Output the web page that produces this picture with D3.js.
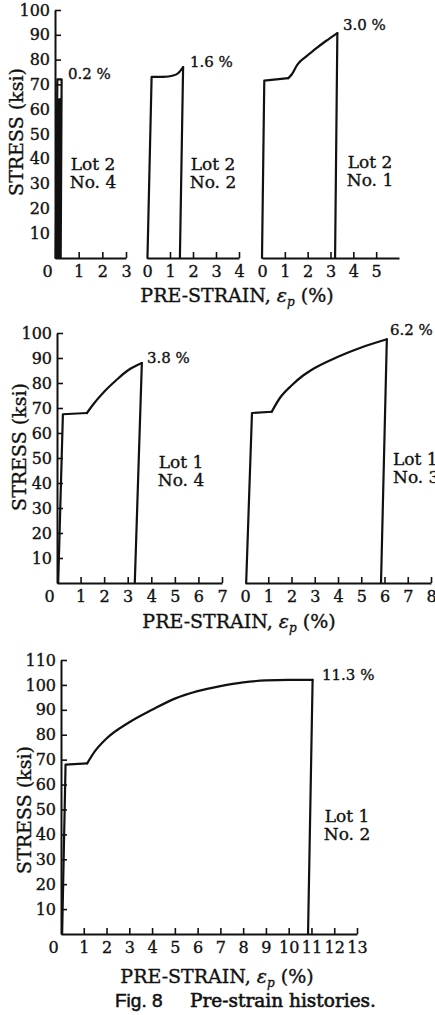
<!DOCTYPE html>
<html>
<head>
<meta charset="utf-8">
<script src="https://cdn.jsdelivr.net/npm/d3@7"></script>
<style>
    html, body { margin: 0; padding: 0; background: #fff; }
    #chart { width: 435px; height: 1015px; }
</style>
</head>
<body>
<div id="chart"></div>
<script>
// ticks
const stressTicks = [10, 20, 30, 40, 50, 60, 70, 80, 90, 100];
const stressTicksBig = [10, 20, 30, 40, 50, 60, 70, 80, 90, 100, 110];
const strainTicks3 = [0, 1, 2, 3];
const strainTicks4 = [0, 1, 2, 3, 4];
const strainTicks5 = [0, 1, 2, 3, 4, 5];
const strainTicks7 = [0, 1, 2, 3, 4, 5, 6, 7];
const strainTicks8 = [0, 1, 2, 3, 4, 5, 6, 7, 8];
const strainTicks13 = [0, 1, 2, 3, 4, 5, 6, 7, 8, 9, 10, 11, 12, 13];

// pre-strain histories [strain %, stress ksi]
// first 3 points: loading + yield plateau, last point: end of unloading
const lot2No4 = [[0.03, 0], [0.1, 72], [0.28, 72], [0.24, 0], [0.12, 0], [0.17, 64], [0.22, 64], [0.19, 0], [0.14, 0], [0.2, 58], [0.21, 2]];
const lot2No2 = [[0.02, 0], [0.2, 73], [0.7, 73], [1.1, 73.5], [1.35, 74.5], [1.57, 77], [1.43, 0]];
const lot2No1 = [[0, 0], [0.1, 71.5], [1.15, 72.5], [1.3, 74], [1.55, 78], [1.9, 81], [2.3, 84], [2.8, 87.5], [3.3, 90.7], [3.2, 0]];
const lot1No4 = [[0.05, 0], [0.25, 67.5], [1.27, 68], [1.5, 71], [2, 76.5], [2.5, 81], [3, 85], [3.6, 88], [3.3, 0]];
const lot1No3 = [[0.05, 0], [0.3, 68], [1.15, 68.5], [1.5, 74], [2, 79], [2.5, 83], [3, 86], [4, 90.5], [5, 94.2], [6.1, 97.5], [5.85, 0]];
const lot1No2 = [[0.05, 0], [0.2, 68], [1.15, 68.5], [1.5, 73.5], [2, 78.5], [3, 85], [4, 90], [5, 94.5], [6, 97.5], [7, 99.5], [8, 101], [9, 101.8], [10, 102], [11.05, 102], [10.85, 0]];

const finalStrain = ["0.2 %", "1.6 %", "3.0 %", "3.8 %", "6.2 %", "11.3 %"];
const specimens = [["Lot 2", "No. 4"], ["Lot 2", "No. 2"], ["Lot 2", "No. 1"], ["Lot 1", "No. 4"], ["Lot 1", "No. 3"], ["Lot 1", "No. 2"]];

document.addEventListener("DOMContentLoaded", () => {
    const ink = "#111";
    const serif = "'DejaVu Serif', serif";

    const svg = d3.select("#chart")
        .append("svg")
        .attr("width", 435)
        .attr("height", 1015);

    // a little stroke on text, the print is heavier than the font
    const textStyle = (sel, size) => sel
        .attr("font-family", serif)
        .attr("font-size", size)
        .attr("fill", ink)
        .attr("stroke", ink)
        .attr("stroke-width", 0.35);

    // rows: stress scale + y axis position + label positions
    const rows = [
        { y: d3.scaleLinear().domain([0, 100]).range([258, 10]), ticks: stressTicks, axisX: 55, yLab: [23, 132], xLab: [237, 302] },
        { y: d3.scaleLinear().domain([0, 100]).range([583, 333]), ticks: stressTicks, axisX: 57, yLab: [26, 447], xLab: [239, 628] },
        { y: d3.scaleLinear().domain([0, 110]).range([934, 660]), ticks: stressTicksBig, axisX: 61, yLab: [31, 810], xLab: [217, 983] }
    ];

    // panels: which row, strain range, data, label spots
    const panels = [
        { row: 0, max: 3, x0: 55, x1: 126, ticks: strainTicks3, yAxis: true, smooth: false, data: lot2No4, pct: [68, 79], lot: [93, 170, "middle"] },
        { row: 0, max: 4, x0: 147, x1: 239, ticks: strainTicks4, yAxis: false, smooth: true, data: lot2No2, pct: [190, 67], lot: [213, 170, "middle"] },
        { row: 0, max: 6, x0: 262, x1: 399, ticks: strainTicks5, yAxis: false, smooth: true, data: lot2No1, pct: [343, 30], lot: [370, 168, "middle"] },
        { row: 1, max: 7, x0: 57, x1: 222, ticks: strainTicks7, yAxis: true, smooth: true, data: lot1No4, pct: [147, 363], lot: [181, 468, "middle"] },
        { row: 1, max: 8, x0: 245, x1: 431, ticks: strainTicks8, yAxis: false, smooth: true, data: lot1No3, pct: [390, 335], lot: [393, 465, "start"] },
        { row: 2, max: 13, x0: 61, x1: 357, ticks: strainTicks13, yAxis: true, smooth: true, data: lot1No2, pct: [322, 680], lot: [347, 822, "middle"] }
    ];

    panels.forEach((p, i) => {
        const r = rows[p.row];
        const x = d3.scaleLinear().domain([0, p.max]).range([p.x0, p.x1]);
        const y = r.y;
        const g = svg.append("g");

        // x axis, ticks pointing up
        const xAxis = g.append("g")
            .attr("transform", `translate(0,${y(0)})`)
            .call(d3.axisBottom(x)
                .tickValues(p.ticks)
                .tickSizeInner(-6)
                .tickSizeOuter(0)
                .tickPadding(8)
                .tickFormat(d3.format("d")));
        xAxis.selectAll(".tick line").attr("stroke", ink).attr("stroke-width", 1.6)
            .filter(d => d === 0).remove();
        xAxis.select(".domain").attr("stroke", ink).attr("stroke-width", 2);
        textStyle(xAxis.selectAll("text"), 16)
            .filter(d => d === 0 && p.yAxis)
            .attr("dx", -8);

        // y axis only on the first panel of each row
        if (p.yAxis) {
            const yAxis = g.append("g")
                .attr("transform", `translate(${r.axisX},0)`)
                .call(d3.axisLeft(y)
                    .tickValues(r.ticks)
                    .tickSizeInner(-6)
                    .tickSizeOuter(0)
                    .tickPadding(5));
            yAxis.select(".domain").attr("stroke", ink).attr("stroke-width", 2);
            yAxis.selectAll(".tick line").attr("stroke", ink).attr("stroke-width", 1.6);
            textStyle(yAxis.selectAll("text"), 16);
        }

        // history curve: straight loading/unloading, smooth hardening part
        const straight = d3.line().x(d => x(d[0])).y(d => y(d[1]));
        const bent = d3.line().x(d => x(d[0])).y(d => y(d[1])).curve(d3.curveMonotoneX);
        const parts = p.smooth
            ? [[p.data.slice(0, 3), straight], [p.data.slice(2, -1), bent], [p.data.slice(-2), straight]]
            : [[p.data, straight]];
        parts.forEach(([pts, gen]) => {
            g.append("path")
                .datum(pts)
                .attr("fill", "none")
                .attr("stroke", ink)
                .attr("stroke-width", 2.2)
                .attr("stroke-linejoin", "round")
                .attr("stroke-linecap", "round")
                .attr("d", gen);
        });

        // final strain label
        textStyle(g.append("text"), 15)
            .attr("x", p.pct[0])
            .attr("y", p.pct[1])
            .text(finalStrain[i]);

        // specimen label
        specimens[i].forEach((s, k) => {
            textStyle(g.append("text"), 17)
                .attr("x", p.lot[0])
                .attr("y", p.lot[1] + k * 18)
                .attr("text-anchor", p.lot[2])
                .text(s);
        });
    });

    // axis titles per row
    rows.forEach(r => {
        textStyle(svg.append("text"), 19)
            .attr("transform", `translate(${r.yLab[0]},${r.yLab[1]}) rotate(-90)`)
            .attr("text-anchor", "middle")
            .text("STRESS (ksi)");

        const t = textStyle(svg.append("text"), 19)
            .attr("x", r.xLab[0])
            .attr("y", r.xLab[1])
            .attr("text-anchor", "middle");
        t.append("tspan").text("PRE-STRAIN, ");
        t.append("tspan").attr("font-style", "italic").text("ε");
        t.append("tspan").attr("font-style", "italic").attr("font-size", 12).attr("dy", 4).text("p");
        t.append("tspan").attr("dy", -4).text(" (%)");
    });

    // caption
    svg.append("text")
        .attr("x", 115)
        .attr("y", 1007)
        .attr("font-family", "'Liberation Sans', Arial, sans-serif")
        .attr("font-size", 19)
        .attr("fill", ink)
        .attr("stroke", ink)
        .attr("stroke-width", 0.5)
        .text("Fig. 8");
    textStyle(svg.append("text"), 18.5)
        .attr("x", 190)
        .attr("y", 1007)
        .attr("stroke-width", 0.6)
        .text("Pre-strain histories.");
});
</script>
</body>
</html>
